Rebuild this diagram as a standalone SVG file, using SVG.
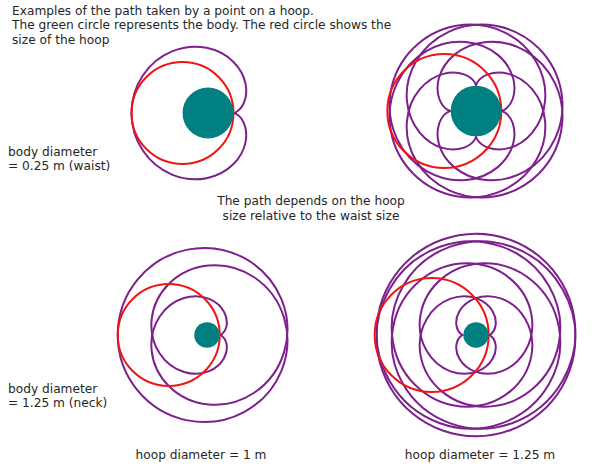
<svg xmlns="http://www.w3.org/2000/svg" width="600" height="476" viewBox="0 0 600 476">
<style>
text { font-family: "DejaVu Sans", "Liberation Sans", sans-serif; font-size: 12.2px; fill: #262626; }
.mid { text-anchor: middle; }
.trace { fill: none; stroke: #7d1f8c; stroke-width: 2; stroke-linejoin: round; }
.hoop { fill: none; stroke: #f01414; stroke-width: 2; }
.body { fill: #008080; }
</style>
<defs>
<path id="tlH" class="trace" d="M25.5,0 C25.5,0 26.92,0.04 29.09,1.49 C31.26,2.94 34.11,5.84 36.06,10.56 C38.02,15.28 39,21.82 37.55,29.09 C36.1,36.37 32.18,44.32 25.5,51 C18.82,57.68 9.4,62.98 -1.49,65.15 C-12.38,67.32 -24.66,66.28 -36.06,61.56 C-47.46,56.84 -57.88,48.44 -65.15,37.55 C-72.43,26.66 -76.5,13.35 -76.5,0"/>
<path id="blH" class="trace" d="M12.75,0 C12.75,0 13.84,0.04 15.36,1.29 C16.88,2.53 18.76,5.04 19.52,8.87 C20.28,12.7 19.84,17.85 17.1,22.97 C14.36,28.1 9.27,33.13 2.19,36.06 C-4.89,39 -13.94,39.74 -22.97,37 C-32.01,34.26 -40.94,27.99 -47.12,18.73 C-53.3,9.48 -56.63,-2.71 -55.38,-15.36 C-54.14,-28 -48.26,-40.99 -38.25,-51 C-28.24,-61.01 -14.12,-67.93 1.29,-69.45 C16.69,-70.97 33.27,-67.02 47.12,-57.77 C60.96,-48.52 71.94,-34 77.07,-17.1 C82.19,-0.19 81.39,18.97 74.31,36.06 C67.23,53.16 53.9,68.03 37,77.07 C20.09,86.1 -0.25,89.2 -19.52,85.37 C-38.78,81.54 -56.81,70.79 -69.45,55.38 C-82.1,39.97 -89.25,20.03 -89.25,0"/>
<path id="trH" class="trace" d="M25.33,0 C25.33,0 26.91,0.05 29.27,1.7 C31.63,3.35 34.7,6.67 36.64,12 C38.58,17.33 39.29,24.66 37.15,32.67 C35,40.67 29.93,49.28 21.77,56.13 C13.61,62.98 2.35,67.98 -10.3,69.08 C-22.96,70.19 -36.93,67.35 -49.36,60.17 C-61.8,52.99 -72.59,41.48 -79.18,27.36 C-85.76,13.24 -88.06,-3.42 -85.23,-19.5 C-82.39,-35.58 -74.42,-50.97 -62.7,-62.7"/>
<path id="brH" class="trace" d="M12.67,0 C12.67,0 13.79,0.05 15.34,1.35 C16.89,2.65 18.8,5.26 19.5,9.23 C20.2,13.2 19.6,18.51 16.6,23.71 C13.59,28.91 8.13,33.92 0.67,36.64 C-6.79,39.36 -16.22,39.67 -25.43,36.32 C-34.65,32.96 -43.56,25.89 -49.36,15.83 C-55.17,5.78 -57.75,-7.2 -55.44,-20.31 C-53.13,-33.42 -45.87,-46.54 -34.44,-56.13 C-23,-65.73 -7.46,-71.65 8.96,-71.65 C25.37,-71.65 42.51,-65.66 56.13,-54.23 C69.76,-42.8 79.71,-25.99 83.01,-7.26 C86.31,11.47 82.89,31.95 72.83,49.36 C62.78,66.78 46.15,80.94 26.38,88.13 C6.61,95.33 -16.14,95.46 -36.64,88 C-57.14,80.54 -75.2,65.52 -86.41,46.1 C-97.62,26.68 -101.87,3.02 -97.9,-19.5 C-93.93,-42.01 -81.76,-63.18 -64.04,-78.04 C-46.33,-92.91 -23.21,-101.33 0,-101.33"/>
</defs>
<rect width="600" height="476" fill="#ffffff"/>
<g id="captions">
<text x="12" y="14.5">Examples of the path taken by a point on a hoop.</text>
<text x="12" y="29">The green circle represents the body. The red circle shows the</text>
<text x="12" y="43.5">size of the hoop</text>
<text x="8" y="156">body diameter</text>
<text x="8" y="170">= 0.25 m (waist)</text>
<text class="mid" x="311" y="205">The path depends on the hoop</text>
<text class="mid" x="311" y="220">size relative to the waist size</text>
<text x="8" y="393">body diameter</text>
<text x="8" y="407">= 1.25 m (neck)</text>
<text class="mid" x="201" y="459">hoop diameter = 1 m</text>
<text class="mid" x="480" y="459">hoop diameter = 1.25 m</text>
</g>
<g id="panel-top-left" transform="translate(208,113)">
<use href="#tlH"/>
<use href="#tlH" transform="scale(1,-1)"/>
<circle class="hoop" cx="-25.5" cy="0" r="51"/>
<circle class="body" cx="0" cy="0" r="25.5"/>
</g>
<g id="panel-top-right" transform="translate(476,111)">
<use href="#trH"/>
<use href="#trH" transform="rotate(90)"/>
<use href="#trH" transform="rotate(180)"/>
<use href="#trH" transform="rotate(270)"/>
<use href="#trH" transform="matrix(0,1,1,0,0,0)"/>
<use href="#trH" transform="rotate(90) matrix(0,1,1,0,0,0)"/>
<use href="#trH" transform="rotate(180) matrix(0,1,1,0,0,0)"/>
<use href="#trH" transform="rotate(270) matrix(0,1,1,0,0,0)"/>
<circle class="hoop" cx="-31.67" cy="0" r="57"/>
<circle class="body" cx="0" cy="0" r="25.33"/>
</g>
<g id="panel-bottom-left" transform="translate(207,335)">
<use href="#blH"/>
<use href="#blH" transform="scale(1,-1)"/>
<circle class="hoop" cx="-38.25" cy="0" r="51"/>
<circle class="body" cx="0" cy="0" r="12.75"/>
</g>
<g id="panel-bottom-right" transform="translate(476,335)">
<use href="#brH"/>
<use href="#brH" transform="scale(-1,1)"/>
<use href="#brH" transform="scale(1,-1)"/>
<use href="#brH" transform="scale(-1,-1)"/>
<circle class="hoop" cx="-44.33" cy="0" r="57"/>
<circle class="body" cx="0" cy="0" r="12.67"/>
</g>
</svg>
